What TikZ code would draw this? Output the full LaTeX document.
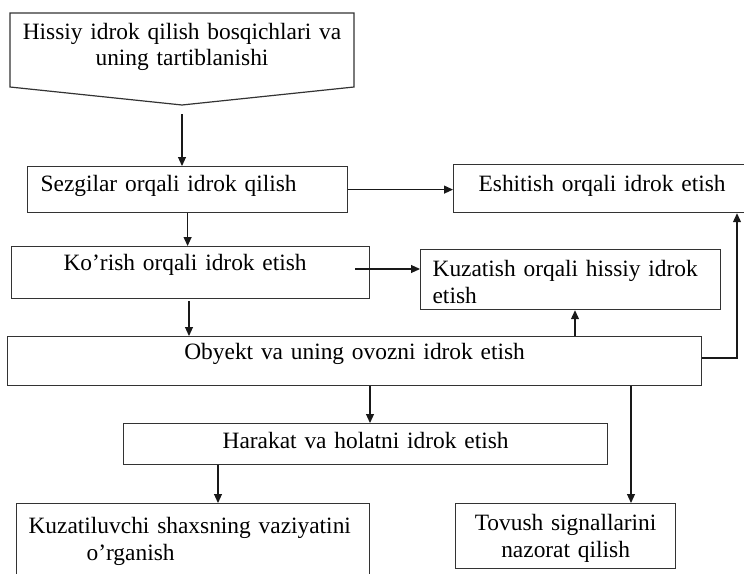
\documentclass[tikz,border=0pt]{standalone}
\usepackage{fontspec}
\setmainfont{Liberation Serif}
\usetikzlibrary{arrows.meta}

\begin{document}
\begin{tikzpicture}[x=1pt,y=-1pt,
  txt/.style={inner sep=0pt,text height=16pt,font=\fontsize{23.4}{26.5}\selectfont},
  box/.style={txt,draw=black!80,line width=1.2pt,anchor=north west,align=left},
  arr/.style={draw=black!90,line width=1.1pt,-{Triangle[length=9pt,width=8pt]}}]
\path[use as bounding box] (0,0) rectangle (744,573);
% title block
\draw[black!80,line width=1.2pt] (10,13)--(354,13)--(354,87)--(182,105)--(10,87)--cycle;
\node[txt,anchor=north,text width=340pt,align=center] (title) at (182,23) {Hissiy idrok qilish bosqichlari va\\uning tartiblanishi};
\coordinate (tnib) at (182,114);

\node[box,inner xsep=13pt,inner ysep=9pt,text width=294pt,text depth=12pt] (sez) at (27,166) {Sezgilar orqali idrok qilish};
\node[box,inner xsep=25pt,inner ysep=11pt,text width=257pt,text depth=10pt] (esh) at (453,164) {Eshitish orqali idrok etish};
\node[box,inner xsep=52pt,inner ysep=8pt,text width=254pt,text depth=20pt] (kor) at (11,246) {Ko’rish orqali idrok etish};
\node[box,inner xsep=12pt,inner ysep=11pt,text width=276pt,text depth=22pt] (kuz) at (420,249) {Kuzatish orqali hissiy idrok\\etish};
\node[box,align=center,inner xsep=10pt,inner ysep=7pt,text width=674pt,text depth=19pt] (oby) at (7,336) {Obyekt va uning ovozni idrok etish};
\node[box,align=center,inner xsep=10pt,inner ysep=9pt,text width=464pt,text depth=7pt] (har) at (123,423) {Harakat va holatni idrok etish};
\node[box,inner xsep=12pt,inner ysep=14pt,text width=329pt,text depth=53pt] (kzl) at (16,503) {Kuzatiluvchi shaxsning vaziyatini\\\hspace*{58pt}o’rganish};
\node[box,align=center,inner xsep=10pt,inner ysep=11pt,text width=200pt,text depth=27pt] (tov) at (455,503) {Tovush signallarini\\nazorat qilish};

% connectors
\coordinate (kout) at (355,269);
\coordinate (kdn) at (189,0);
\coordinate (oup) at (575,0);
\coordinate (obend) at (737,358);
\coordinate (odn) at (370,0);
\coordinate (oright) at (631,0);
\coordinate (hdn) at (218,0);
\draw[arr] (tnib) -- (tnib |- sez.north);
\draw[arr] (sez.east) -- (sez.east -| esh.west);
\draw[arr] (sez.south) -- (sez.south |- kor.north);
\draw[arr] (kout) -- (kout -| kuz.west);
\draw[arr] ([yshift=-2pt]kor.south -| kdn) -- (oby.north -| kdn);
\draw[arr] (oby.north -| oup) -- (kuz.south -| oup);
\draw[arr] (obend -| oby.east) -- (obend) -- (obend |- esh.south);
\draw[arr] (oby.south -| odn) -- (har.north -| odn);
\draw[arr] (oby.south -| oright) -- (tov.north -| oright);
\draw[arr] (har.south -| hdn) -- (kzl.north -| hdn);
\end{tikzpicture}
\end{document}
